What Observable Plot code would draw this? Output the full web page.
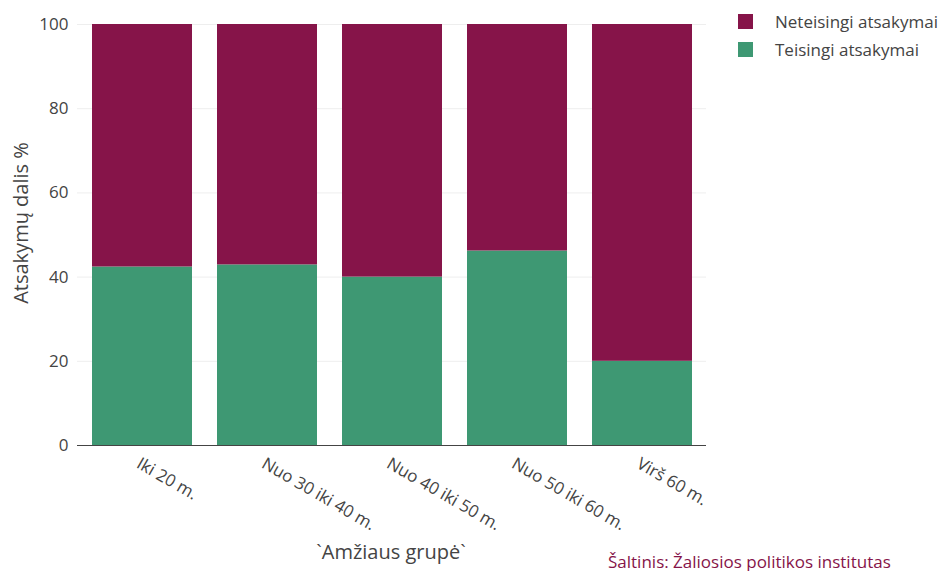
<!DOCTYPE html>
<html>
<head>
<meta charset="utf-8">
<script src="https://cdn.jsdelivr.net/npm/d3@7"></script>
<script src="https://cdn.jsdelivr.net/npm/@observablehq/plot@0.6"></script>
<style>
  html, body { margin: 0; padding: 0; background: #fff; }
  #chart { position: relative; width: 940px; height: 571px; overflow: hidden; font-family: "Open Sans", sans-serif; color: #444; }
  #chart svg { position: absolute; left: 0; top: 0; }
  .legend { position: absolute; left: 738px; top: 7px; font-size: 17px; }
  .legend .item { display: flex; align-items: center; height: 28px; }
  .legend .swatch { width: 15px; height: 15px; margin-right: 22px; }
  .ytitle { position: absolute; left: 20px; top: 223px; transform: translate(-50%, -50%) rotate(-90deg); font-size: 20px; white-space: nowrap; }
  .xtitle { position: absolute; left: 391px; top: 551px; transform: translate(-50%, -50%); font-size: 20px; white-space: nowrap; }
  .caption { position: absolute; left: 608px; top: 550px; font-size: 17px; color: #861449; white-space: nowrap; }
</style>
</head>
<body>
<div id="chart"></div>
<script>
// Age groups on the x axis
const groups = ["Iki 20 m.", "Nuo 30 iki 40 m.", "Nuo 40 iki 50 m.", "Nuo 50 iki 60 m.", "Virš 60 m."];
// Share of answers, %
const correct = [42.4, 42.9, 40.0, 46.2, 20.0];
const incorrect = [57.6, 57.1, 60.0, 53.8, 80.0];
// Series (stack order bottom to top) and their colours
const series = ["Teisingi atsakymai", "Neteisingi atsakymai"];
const colors = ["#3e9873", "#861449"];
const legendOrder = ["Neteisingi atsakymai", "Teisingi atsakymai"];
const yTicks = [0, 20, 40, 60, 80, 100];

const rows = [];
groups.forEach((g, i) => {
  rows.push({group: g, series: series[0], value: correct[i]});
  rows.push({group: g, series: series[1], value: incorrect[i]});
});

const plot = Plot.plot({
  width: 940,
  height: 571,
  marginLeft: 77,
  marginRight: 234,
  marginTop: 24,
  marginBottom: 126,
  style: {fontFamily: "'Open Sans', sans-serif", fontSize: "17px", color: "#444", background: "transparent"},
  x: {domain: groups, paddingInner: 0.2, paddingOuter: 0.1, axis: null},
  y: {domain: [0, 100], label: null, axis: null},
  color: {domain: series, range: colors},
  marks: [
    Plot.gridY(yTicks, {stroke: "#eeeeee", strokeOpacity: 1}),
    Plot.barY(rows, {x: "group", y: "value", fill: "series"}),
    Plot.ruleY([0], {stroke: "#444", strokeWidth: 1}),
    Plot.axisY(yTicks, {tickSize: 0, tickPadding: 9, label: null, fontSize: 17}),
    Plot.text(groups, {
      x: d => d, text: d => d, frameAnchor: "bottom",
      rotate: 30, textAnchor: "start", lineAnchor: "top",
      dy: 11, dx: -1, fontSize: 17, fill: "#444"
    })
  ]
});

const root = document.getElementById("chart");
root.appendChild(plot);

const legend = document.createElement("div");
legend.className = "legend";
legendOrder.forEach(name => {
  const item = document.createElement("div");
  item.className = "item";
  const sw = document.createElement("div");
  sw.className = "swatch";
  sw.style.background = colors[series.indexOf(name)];
  const label = document.createElement("span");
  label.textContent = name;
  item.appendChild(sw);
  item.appendChild(label);
  legend.appendChild(item);
});
root.appendChild(legend);

const yTitle = document.createElement("div");
yTitle.className = "ytitle";
yTitle.textContent = "Atsakymų dalis %";
root.appendChild(yTitle);

const xTitle = document.createElement("div");
xTitle.className = "xtitle";
xTitle.textContent = "`Amžiaus grupė`";
root.appendChild(xTitle);

const caption = document.createElement("div");
caption.className = "caption";
caption.textContent = "Šaltinis: Žaliosios politikos institutas";
root.appendChild(caption);
</script>
</body>
</html>
